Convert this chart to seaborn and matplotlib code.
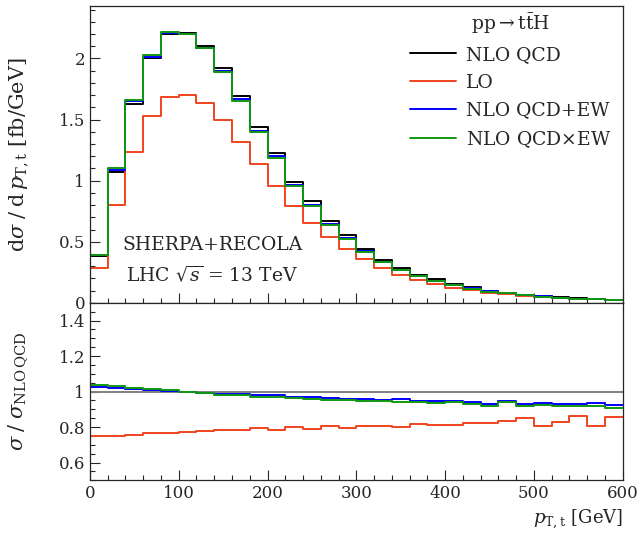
import numpy as np
import pandas as pd
import matplotlib
matplotlib.use('Agg')
import matplotlib.pyplot as plt
import seaborn as sns
from matplotlib.ticker import MultipleLocator
from matplotlib.lines import Line2D

# bin edges in GeV (20 GeV bins)
edges = np.arange(0, 620, 20)

# NLO QCD differential cross section [fb/GeV]
nlo_qcd = [0.380, 1.068, 1.630, 2.000, 2.200, 2.205, 2.100, 1.920, 1.690, 1.437,
           1.227, 0.990, 0.830, 0.667, 0.552, 0.440, 0.352, 0.284, 0.230, 0.192,
           0.155, 0.126, 0.100, 0.084, 0.066, 0.056, 0.046, 0.038, 0.034, 0.027]

# ratios to NLO QCD
ratio_lo = [0.751, 0.751, 0.757, 0.766, 0.766, 0.773, 0.779, 0.781, 0.781, 0.792,
            0.781, 0.801, 0.788, 0.805, 0.796, 0.807, 0.803, 0.801, 0.815, 0.809,
            0.809, 0.822, 0.820, 0.833, 0.852, 0.803, 0.826, 0.861, 0.805, 0.854]
ratio_ew_add = [1.024, 1.021, 1.013, 1.007, 1.004, 0.998, 0.994, 0.987, 0.985, 0.979,
                0.979, 0.972, 0.968, 0.963, 0.959, 0.957, 0.951, 0.957, 0.946, 0.944,
                0.948, 0.940, 0.931, 0.949, 0.931, 0.934, 0.931, 0.927, 0.934, 0.923]
ratio_ew_mult = [1.036, 1.030, 1.019, 1.015, 1.006, 0.998, 0.994, 0.983, 0.979, 0.972,
                 0.968, 0.964, 0.959, 0.955, 0.951, 0.946, 0.946, 0.942, 0.940, 0.936,
                 0.940, 0.931, 0.916, 0.940, 0.921, 0.923, 0.921, 0.918, 0.921, 0.910]

labels = ['NLO QCD', 'LO', 'NLO QCD+EW', r'NLO QCD$\times$EW']
colors = ['black', '#f0441d', '#0000ff', '#119911']

nlo = np.array(nlo_qcd)
ratios = [np.ones(len(nlo)), np.array(ratio_lo), np.array(ratio_ew_add), np.array(ratio_ew_mult)]

# long format frame, last value repeated so steps reach 600
rows = []
for lab, r in zip(labels, ratios):
    vals = np.append(nlo * r, nlo[-1] * r[-1])
    rat = np.append(r, r[-1])
    for x, v, q in zip(edges, vals, rat):
        rows.append({'pt': x, 'xs': v, 'ratio': q, 'sample': lab})
df = pd.DataFrame(rows)

sns.set_style('ticks')
plt.rcParams['font.family'] = ['DejaVu Serif']
plt.rcParams['mathtext.fontset'] = 'dejavuserif'
plt.rcParams['font.size'] = 13.5
plt.rcParams['xtick.labelsize'] = 12
plt.rcParams['ytick.labelsize'] = 12
plt.rcParams['xtick.direction'] = 'in'
plt.rcParams['ytick.direction'] = 'in'

fig = plt.figure(figsize=(6.42, 5.36), dpi=100)
ax1 = fig.add_axes([0.140, 0.435, 0.830, 0.554])
ax2 = fig.add_axes([0.140, 0.104, 0.830, 0.331], sharex=ax1)

pal = dict(zip(labels, colors))
sns.lineplot(data=df, x='pt', y='xs', hue='sample', palette=pal, hue_order=labels,
             drawstyle='steps-post', linewidth=1.4, legend=False, ax=ax1)

ax2.axhline(1.0, color='grey', linewidth=1.4)
sns.lineplot(data=df[df['sample'] != 'NLO QCD'], x='pt', y='ratio', hue='sample',
             palette=pal, hue_order=labels[1:], drawstyle='steps-post',
             linewidth=1.4, legend=False, ax=ax2)

ax1.set_xlim(0, 600)
ax1.set_ylim(0, 2.43)
ax2.set_ylim(0.5, 1.5)

ax1.yaxis.set_major_locator(MultipleLocator(0.5))
ax1.yaxis.set_minor_locator(MultipleLocator(0.1))
ax2.yaxis.set_major_locator(MultipleLocator(0.2))
ax2.yaxis.set_minor_locator(MultipleLocator(0.05))
ax2.xaxis.set_major_locator(MultipleLocator(100))
ax2.xaxis.set_minor_locator(MultipleLocator(20))

ax1.set_yticks([0, 0.5, 1, 1.5, 2])
ax1.set_yticklabels(['0', '0.5', '1', '1.5', '2'])
ax2.set_yticks([0.6, 0.8, 1.0, 1.2, 1.4])
ax2.set_yticklabels(['0.6', '0.8', '1', '1.2', '1.4'])

for ax in (ax1, ax2):
    ax.tick_params(which='major', length=7, width=0.8)
    ax.tick_params(which='minor', length=3.5, width=0.8)
    for s in ax.spines.values():
        s.set_linewidth(0.9)
plt.setp(ax1.get_xticklabels(), visible=False)

ax1.set_xlabel('')
ax1.set_ylabel(r'$\mathrm{d}\sigma\;/\;\mathrm{d}\,p_{\mathrm{T,t}}$ [fb/GeV]', fontsize=15)
ax1.yaxis.set_label_coords(-0.113, 0.5)
ax2.set_ylabel(r'$\sigma\;/\;\sigma_{\mathrm{NLO\,QCD}}$', fontsize=15)
ax2.yaxis.set_label_coords(-0.113, 0.5)
ax2.set_xlabel(r'$p_{\mathrm{T,t}}$ [GeV]', loc='right', fontsize=13)

ax1.text(0.23, 0.195, 'SHERPA+RECOLA', transform=ax1.transAxes, ha='center', va='center')
ax1.text(0.23, 0.094, r'LHC $\sqrt{s}$ = 13 TeV', transform=ax1.transAxes, ha='center', va='center')

handles = [Line2D([], [], color=c, linewidth=1.4) for c in colors]
leg = ax1.legend(handles, labels, title=r'$\mathrm{pp}\rightarrow\mathrm{t\bar{t}H}$',
                 loc='upper right', bbox_to_anchor=(1.0, 1.018), frameon=False,
                 title_fontsize=13.5, handlelength=2.45, handletextpad=0.55,
                 labelspacing=0.52, borderaxespad=0.2)
leg._legend_box.align = 'center'

fig.savefig('out.png', dpi=100)
